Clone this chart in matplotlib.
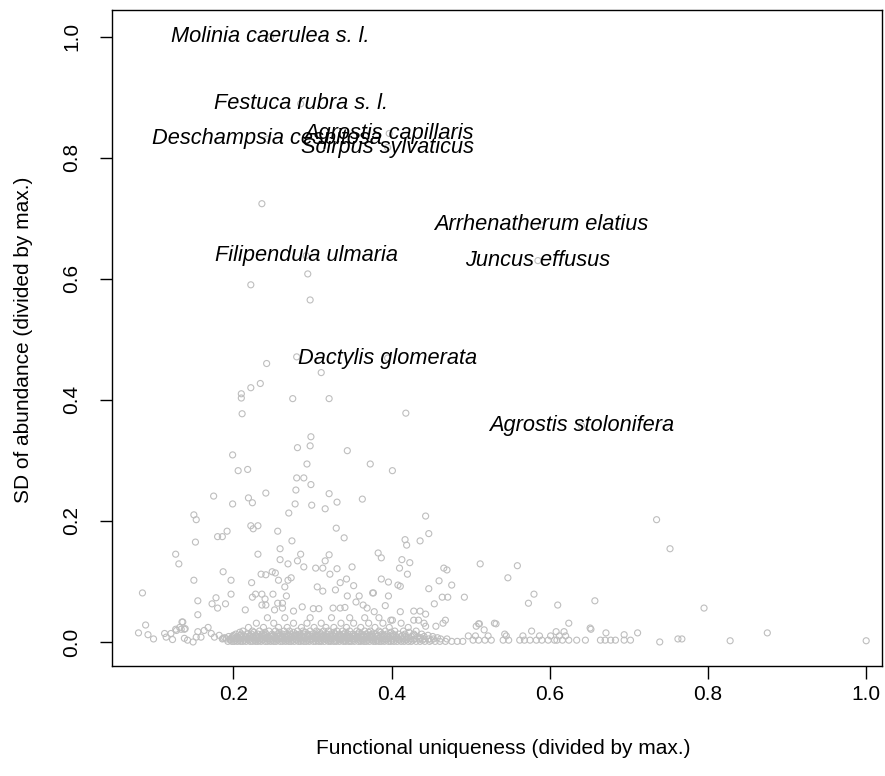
import matplotlib
matplotlib.use("Agg")
import matplotlib.pyplot as plt

plt.rcParams['font.family'] = ['Liberation Sans', 'DejaVu Sans']

# Labelled species (functional uniqueness, SD of abundance)
species = ["Molinia caerulea s. l.", "Festuca rubra s. l.", "Deschampsia cespitosa",
           "Agrostis capillaris", "Scirpus sylvaticus", "Arrhenatherum elatius",
           "Juncus effusus", "Filipendula ulmaria", "Dactylis glomerata",
           "Agrostis stolonifera"]
species_x = [0.247, 0.285, 0.243, 0.397, 0.395, 0.589, 0.585, 0.292, 0.395, 0.640]
species_y = [1.000, 0.889, 0.831, 0.840, 0.817, 0.689, 0.630, 0.638, 0.469, 0.357]

# Scattered species above the dense band
sparse_x = [0.236, 0.294, 0.222, 0.297, 0.242, 0.280, 0.311, 0.222, 0.234, 0.210,
            0.210, 0.275, 0.321, 0.211, 0.418, 0.298, 0.281, 0.297, 0.344, 0.199,
            0.293, 0.373, 0.401, 0.206, 0.218, 0.280, 0.289, 0.298, 0.279, 0.241,
            0.175, 0.219, 0.224, 0.199, 0.321, 0.331, 0.363, 0.278, 0.299, 0.316,
            0.270, 0.150, 0.153, 0.222, 0.231, 0.330, 0.443, 0.447, 0.436, 0.417,
            0.419, 0.735, 0.752, 0.225, 0.192, 0.180, 0.186, 0.256, 0.152, 0.274,
            0.127, 0.131, 0.231, 0.259, 0.259, 0.285, 0.281, 0.289, 0.269, 0.321,
            0.316, 0.304, 0.313, 0.322, 0.331, 0.350, 0.340, 0.383, 0.187, 0.150,
            0.197, 0.235, 0.241, 0.249, 0.253, 0.223, 0.257, 0.269, 0.273, 0.265,
            0.335, 0.343, 0.306, 0.313, 0.329, 0.352, 0.085, 0.197, 0.155, 0.178,
            0.173, 0.180, 0.190, 0.224, 0.228, 0.236, 0.240, 0.241, 0.236, 0.250,
            0.256, 0.267, 0.262, 0.262, 0.252, 0.276, 0.287, 0.215, 0.155, 0.344,
            0.355, 0.359, 0.364, 0.369, 0.377, 0.326, 0.335, 0.341, 0.301, 0.308,
            0.135, 0.089, 0.080, 0.092, 0.099, 0.127, 0.134, 0.138, 0.387, 0.413,
            0.423, 0.410, 0.420, 0.466, 0.470, 0.512, 0.559, 0.547, 0.460, 0.476,
            0.447, 0.387, 0.396, 0.408, 0.411, 0.376, 0.396, 0.464, 0.471, 0.492,
            0.392, 0.454, 0.580, 0.573, 0.610, 0.657, 0.378, 0.411, 0.428, 0.436,
            0.443, 0.624, 0.652, 0.671, 0.694, 0.711, 0.608, 0.618, 0.577, 0.530,
            0.532, 0.510, 0.517, 0.543, 0.465, 0.468, 0.456, 0.441, 0.443, 0.428,
            0.434, 0.399, 0.401, 0.795, 0.739, 0.762, 0.767, 0.828, 0.875, 1.000,
            0.507, 0.511, 0.651, 0.113, 0.115, 0.121, 0.123, 0.128, 0.132, 0.136,
            0.139, 0.138, 0.142, 0.149, 0.153, 0.155, 0.159, 0.163, 0.168, 0.172,
            0.176, 0.182, 0.187]
sparse_y = [0.724, 0.608, 0.590, 0.565, 0.460, 0.471, 0.445, 0.420, 0.427, 0.410,
            0.403, 0.402, 0.402, 0.377, 0.378, 0.339, 0.321, 0.324, 0.316, 0.309,
            0.294, 0.294, 0.283, 0.283, 0.285, 0.271, 0.271, 0.260, 0.251, 0.246,
            0.241, 0.238, 0.230, 0.228, 0.245, 0.231, 0.236, 0.228, 0.226, 0.220,
            0.213, 0.210, 0.202, 0.192, 0.192, 0.188, 0.208, 0.179, 0.167, 0.169,
            0.160, 0.202, 0.154, 0.187, 0.183, 0.174, 0.174, 0.183, 0.165, 0.167,
            0.145, 0.129, 0.145, 0.154, 0.136, 0.145, 0.134, 0.124, 0.129, 0.144,
            0.134, 0.122, 0.122, 0.112, 0.121, 0.124, 0.172, 0.147, 0.116, 0.102,
            0.102, 0.112, 0.111, 0.116, 0.114, 0.098, 0.102, 0.102, 0.106, 0.091,
            0.098, 0.104, 0.091, 0.084, 0.086, 0.093, 0.081, 0.079, 0.068, 0.073,
            0.063, 0.056, 0.063, 0.074, 0.079, 0.079, 0.071, 0.061, 0.061, 0.079,
            0.064, 0.076, 0.056, 0.064, 0.053, 0.051, 0.058, 0.053, 0.045, 0.076,
            0.066, 0.076, 0.061, 0.056, 0.081, 0.056, 0.056, 0.057, 0.055, 0.055,
            0.033, 0.028, 0.015, 0.012, 0.005, 0.021, 0.021, 0.021, 0.139, 0.136,
            0.131, 0.122, 0.112, 0.122, 0.119, 0.129, 0.126, 0.106, 0.101, 0.094,
            0.088, 0.104, 0.099, 0.094, 0.092, 0.081, 0.076, 0.074, 0.074, 0.074,
            0.060, 0.063, 0.079, 0.064, 0.061, 0.068, 0.050, 0.050, 0.051, 0.051,
            0.046, 0.031, 0.021, 0.015, 0.012, 0.015, 0.017, 0.017, 0.018, 0.031,
            0.030, 0.030, 0.020, 0.013, 0.031, 0.036, 0.026, 0.031, 0.026, 0.036,
            0.036, 0.036, 0.036, 0.056, 0.000, 0.005, 0.005, 0.002, 0.015, 0.002,
            0.026, 0.030, 0.023, 0.014, 0.008, 0.014, 0.004, 0.019, 0.024, 0.033,
            0.022, 0.006, 0.003, 0.000, 0.008, 0.017, 0.008, 0.019, 0.024, 0.014,
            0.008, 0.011, 0.006]

# Dense band of species with near-zero SD, read row by row
band_levels = [0.001, 0.005, 0.009, 0.013, 0.018, 0.024, 0.031, 0.040, 0.003, 0.010,
               0.003, 0.007, 0.011, 0.016]
band1_x = [0.193, 0.198, 0.201, 0.205, 0.209, 0.212, 0.216, 0.221, 0.224, 0.228,
           0.231, 0.235, 0.240, 0.243, 0.247, 0.251, 0.254, 0.259, 0.262, 0.266,
           0.270, 0.273, 0.277, 0.282, 0.285, 0.289, 0.292, 0.296, 0.301, 0.304,
           0.308, 0.311, 0.315, 0.320, 0.323, 0.327, 0.330, 0.334, 0.339, 0.342,
           0.346, 0.349, 0.353, 0.358, 0.361, 0.365, 0.368, 0.372, 0.377, 0.380,
           0.384, 0.387, 0.391, 0.396, 0.399, 0.403, 0.407, 0.412, 0.416, 0.421,
           0.425, 0.431, 0.436, 0.442, 0.448, 0.455, 0.461, 0.468, 0.476, 0.483, 0.490]
band2_x = [0.186, 0.191, 0.196, 0.200, 0.204, 0.208, 0.213, 0.218, 0.222, 0.226,
           0.230, 0.234, 0.238, 0.242, 0.246, 0.250, 0.255, 0.260, 0.264, 0.268,
           0.271, 0.275, 0.279, 0.284, 0.288, 0.293, 0.297, 0.300, 0.304, 0.309,
           0.313, 0.317, 0.321, 0.325, 0.329, 0.333, 0.337, 0.341, 0.345, 0.350,
           0.354, 0.358, 0.362, 0.366, 0.370, 0.374, 0.378, 0.383, 0.387, 0.392,
           0.396, 0.400, 0.405, 0.409, 0.414, 0.419, 0.424, 0.429, 0.435, 0.441,
           0.447, 0.453, 0.462, 0.470]
band3_x = [0.194, 0.199, 0.205, 0.211, 0.215, 0.220, 0.225, 0.229, 0.233, 0.238,
           0.244, 0.248, 0.252, 0.257, 0.261, 0.266, 0.270, 0.274, 0.278, 0.283,
           0.287, 0.291, 0.295, 0.299, 0.303, 0.307, 0.312, 0.316, 0.319, 0.324,
           0.328, 0.332, 0.336, 0.340, 0.344, 0.348, 0.352, 0.356, 0.361, 0.365,
           0.369, 0.373, 0.377, 0.381, 0.386, 0.390, 0.395, 0.401, 0.406, 0.412,
           0.418, 0.425, 0.433, 0.441, 0.452]
band4_x = [0.203, 0.210, 0.217, 0.223, 0.231, 0.236, 0.241, 0.249, 0.256, 0.262,
           0.267, 0.272, 0.279, 0.284, 0.289, 0.294, 0.300, 0.306, 0.311, 0.318,
           0.323, 0.329, 0.334, 0.339, 0.345, 0.351, 0.357, 0.362, 0.368, 0.375,
           0.380, 0.388, 0.394, 0.402, 0.409, 0.417, 0.428, 0.438]
band5_x = [0.212, 0.224, 0.233, 0.245, 0.253, 0.264, 0.271, 0.281, 0.288, 0.297,
           0.305, 0.314, 0.320, 0.331, 0.338, 0.347, 0.356, 0.366, 0.373, 0.384,
           0.392, 0.404, 0.415, 0.431]
band6_x = [0.219, 0.238, 0.257, 0.268, 0.286, 0.302, 0.317, 0.327, 0.343, 0.361,
           0.379, 0.397, 0.421]
band7_x = [0.229, 0.251, 0.276, 0.293, 0.311, 0.336, 0.352, 0.371, 0.389, 0.412]
band8_x = [0.243, 0.265, 0.297, 0.324, 0.347, 0.366, 0.384]
right1_x = [0.503, 0.510, 0.518, 0.526, 0.541, 0.548, 0.562, 0.568, 0.575, 0.583,
            0.590, 0.598, 0.606, 0.609, 0.616, 0.624, 0.634, 0.645, 0.664, 0.670,
            0.677, 0.683, 0.694, 0.702]
right2_x = [0.497, 0.506, 0.522, 0.545, 0.566, 0.587, 0.601, 0.612, 0.620]
band9_x = [0.196, 0.203, 0.207, 0.214, 0.219, 0.227, 0.233, 0.237, 0.245, 0.249,
           0.256, 0.264, 0.268, 0.275, 0.280, 0.287, 0.294, 0.298, 0.306, 0.310,
           0.318, 0.322, 0.329, 0.336, 0.340, 0.347, 0.352, 0.360, 0.363, 0.370,
           0.376, 0.382, 0.389, 0.393, 0.401, 0.410, 0.418, 0.427, 0.439, 0.450]
band10_x = [0.189, 0.198, 0.206, 0.216, 0.224, 0.232, 0.241, 0.253, 0.262, 0.273,
            0.282, 0.290, 0.302, 0.311, 0.319, 0.331, 0.339, 0.348, 0.357, 0.367,
            0.376, 0.385, 0.397, 0.407, 0.420, 0.437, 0.458]
band11_x = [0.200, 0.209, 0.221, 0.228, 0.239, 0.250, 0.259, 0.269, 0.277, 0.286,
            0.296, 0.305, 0.314, 0.326, 0.335, 0.343, 0.354, 0.364, 0.372, 0.383,
            0.391, 0.403, 0.414, 0.429, 0.446]
band12_x = [0.208, 0.226, 0.240, 0.258, 0.276, 0.291, 0.309, 0.327, 0.342, 0.359,
            0.371, 0.386, 0.399, 0.422]

x_ticks = [0.2, 0.4, 0.6, 0.8, 1.0]
y_ticks = [0.0, 0.2, 0.4, 0.6, 0.8, 1.0]

fig = plt.figure(figsize=(8.85, 7.76), dpi=100)
ax = fig.add_axes([112 / 885, 1 - 666 / 776, 770 / 885, 656 / 776])

pt_color = "#bebebe"
pt_size = 19
pt_lw = 0.8
rows = [band1_x, band2_x, band3_x, band4_x, band5_x, band6_x, band7_x, band8_x,
        right1_x, right2_x, band9_x, band10_x, band11_x, band12_x]
for row, level in zip(rows, band_levels):
    ax.scatter(row, [level] * len(row), s=pt_size, facecolors="none",
               edgecolors=pt_color, linewidths=pt_lw)
ax.scatter(sparse_x, sparse_y, s=pt_size, facecolors="none", edgecolors=pt_color,
           linewidths=pt_lw)
ax.scatter(species_x, species_y, s=pt_size, facecolors="none", edgecolors=pt_color,
           linewidths=pt_lw)

for name, x, y in zip(species, species_x, species_y):
    ax.text(x, y, name, ha="center", va="center", style="italic",
            fontsize=15.7, color="black")

ax.set_xlim(0.0465, 1.020)
ax.set_ylim(-0.0397, 1.044)
ax.set_xticks(x_ticks)
ax.set_xticklabels([f"{v:.1f}" for v in x_ticks])
ax.set_yticks(y_ticks)
ax.set_yticklabels([f"{v:.1f}" for v in y_ticks], rotation=90, va="center")
ax.tick_params(axis="both", direction="out", length=9, width=1, labelsize=15)
ax.tick_params(axis="x", pad=5)
ax.tick_params(axis="y", pad=13)
for sp in ax.spines.values():
    sp.set_linewidth(1)

fig.text(503 / 885, 1 - 748 / 776, "Functional uniqueness (divided by max.)",
         ha="center", va="center", fontsize=15)
fig.text(24 / 885, 1 - 340 / 776, "SD of abundance (divided by max.)",
         ha="center", va="center", rotation=90, fontsize=15)

fig.savefig("out.png", dpi=100)
